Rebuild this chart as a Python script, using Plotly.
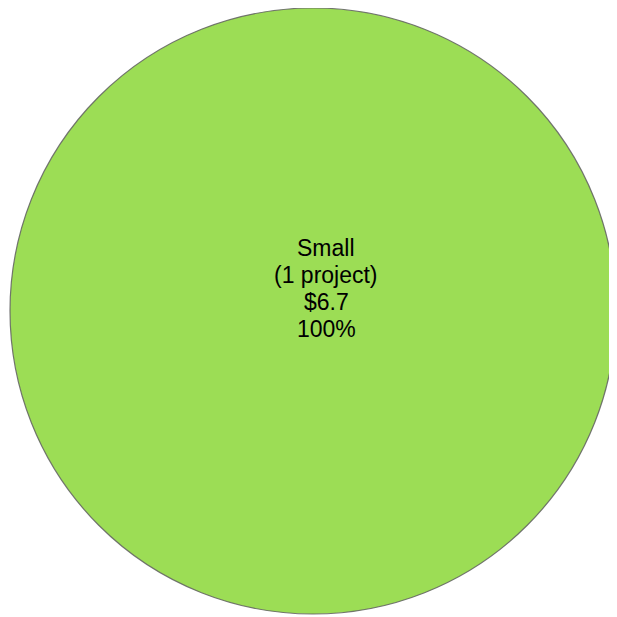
import plotly.graph_objects as go

categories = ["Small"]
project_counts = [1]
values = [6.7]
colors = ["#9cdd55"]

total = sum(values)
lines_per_cat = []
for c, n, v in zip(categories, project_counts, values):
    pct = v / total * 100
    lines_per_cat.append([c, f"({n} project{'s' if n != 1 else ''})", f"${v:.1f}", f"{pct:.0f}%"])

# the page adds an 8px body margin, so the figure is 609px and sits at (8,8)
W = H = 609
fig = go.Figure(go.Pie(
    labels=categories,
    values=values,
    marker=dict(colors=colors, line=dict(color="rgba(95,95,95,0.85)", width=1.2)),
    textinfo="none",
    sort=False,
    showlegend=False,
    hoverinfo="label+value+percent",
    domain=dict(x=[2 / W, 608 / W], y=[1 - 606 / H, 1.0]),
))

cx_px = 318
first_line_px = 240
spacing_px = 27
for i, txt in enumerate(lines_per_cat[0]):
    ypx = first_line_px + i * spacing_px
    fig.add_annotation(
        x=cx_px / W, y=1 - ypx / H, xref="paper", yref="paper",
        text=txt, showarrow=False, xanchor="center", yanchor="middle",
        font=dict(family="Liberation Sans, Arial, sans-serif", size=23, color="#000000"),
    )

fig.update_layout(
    width=W, height=H,
    margin=dict(l=0, r=0, t=0, b=0),
    paper_bgcolor="white",
    plot_bgcolor="white",
)

fig.write_html("out.html")
